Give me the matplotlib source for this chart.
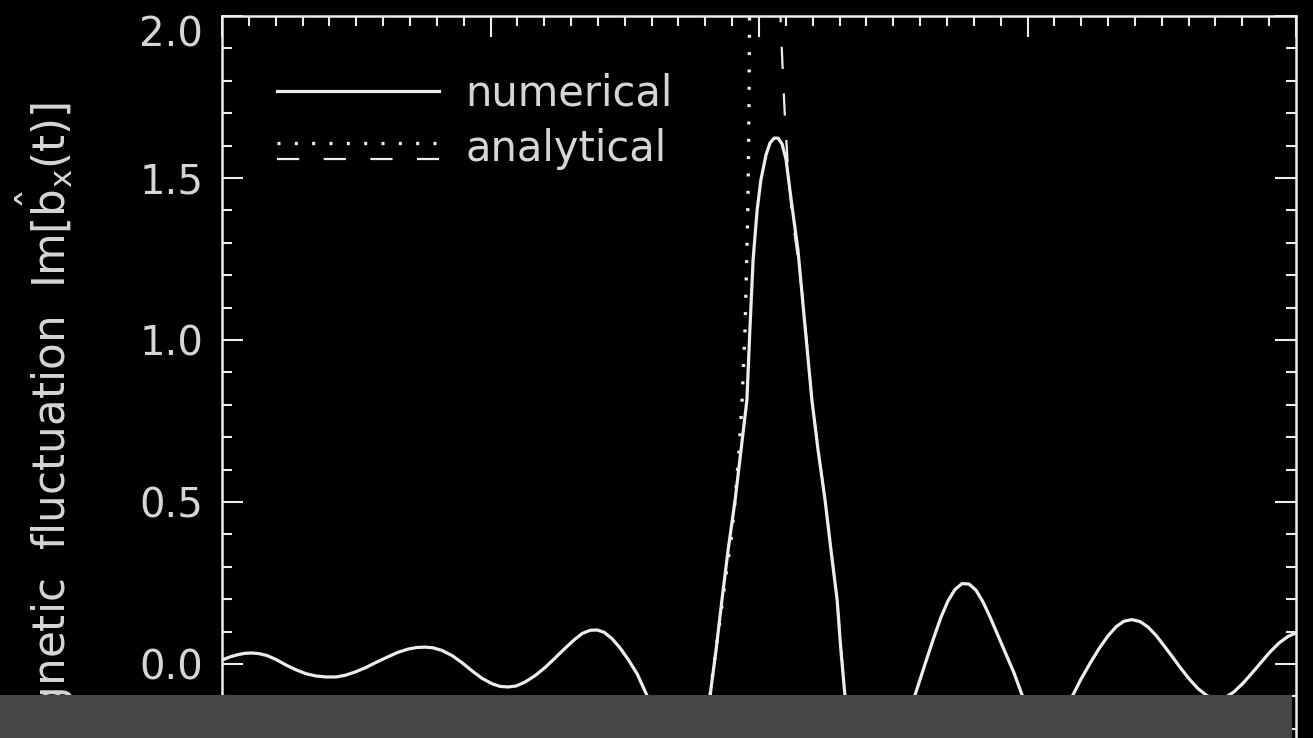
import matplotlib
matplotlib.use('Agg')
import matplotlib.pyplot as plt
from matplotlib.lines import Line2D
from matplotlib.legend_handler import HandlerBase
from matplotlib.patches import Rectangle
from matplotlib.ticker import MultipleLocator

plt.rcParams['font.family'] = ['DejaVu Sans']
plt.rcParams['mathtext.fontset'] = 'dejavusans'

# numerical solution (time in axis units, Im[b_x])
t_num = [0.000, 0.030, 0.060, 0.086, 0.112, 0.138, 0.168, 0.201, 0.238, 0.276,
         0.313, 0.350, 0.387, 0.425, 0.458, 0.495, 0.533, 0.574, 0.615, 0.655,
         0.693, 0.726, 0.756, 0.786, 0.819, 0.857, 0.894, 0.931, 0.968, 1.006,
         1.035, 1.065, 1.095, 1.128, 1.166, 1.203, 1.240, 1.277, 1.311, 1.341,
         1.371, 1.397, 1.423, 1.453, 1.482, 1.512, 1.546, 1.587, 1.650, 1.706,
         1.762, 1.818, 1.840, 1.862, 1.885, 1.911, 1.933, 1.955, 1.966, 1.978,
         1.993, 2.007, 2.026, 2.041, 2.056, 2.071, 2.086, 2.101, 2.115, 2.130,
         2.145, 2.171, 2.197, 2.220, 2.246, 2.268, 2.291, 2.305, 2.320, 2.376,
         2.451, 2.525, 2.581, 2.615, 2.648, 2.678, 2.704, 2.730, 2.756, 2.782,
         2.808, 2.834, 2.860, 2.890, 2.920, 2.950, 2.980, 3.028, 3.076, 3.121,
         3.169, 3.199, 3.233, 3.266, 3.300, 3.330, 3.359, 3.389, 3.419, 3.449,
         3.479, 3.508, 3.538, 3.568, 3.602, 3.635, 3.669, 3.702, 3.736, 3.769,
         3.803, 3.836, 3.870, 3.903, 3.937, 3.970, 4.000]
b_num = [0.012, 0.022, 0.029, 0.033, 0.034, 0.032, 0.026, 0.014, -0.003, -0.018,
         -0.030, -0.037, -0.040, -0.040, -0.035, -0.025, -0.012, 0.005, 0.021, 0.036,
         0.046, 0.051, 0.052, 0.050, 0.042, 0.026, 0.004, -0.021, -0.044, -0.061,
         -0.069, -0.071, -0.068, -0.056, -0.036, -0.011, 0.018, 0.048, 0.074, 0.094,
         0.104, 0.105, 0.098, 0.078, 0.050, 0.015, -0.030, -0.105, -0.210, -0.265,
         -0.222, -0.096, 0.043, 0.198, 0.352, 0.506, 0.660, 0.815, 1.031, 1.247,
         1.401, 1.494, 1.571, 1.608, 1.623, 1.623, 1.605, 1.556, 1.463, 1.370,
         1.278, 1.046, 0.815, 0.660, 0.506, 0.352, 0.198, 0.043, -0.096, -0.235,
         -0.290, -0.235, -0.096, -0.009, 0.074, 0.145, 0.195, 0.230, 0.248, 0.247,
         0.228, 0.192, 0.146, 0.088, 0.030, -0.028, -0.096, -0.179, -0.210, -0.179,
         -0.096, -0.047, 0.002, 0.047, 0.087, 0.115, 0.132, 0.137, 0.131, 0.114,
         0.088, 0.057, 0.024, -0.010, -0.046, -0.076, -0.098, -0.108, -0.104, -0.086,
         -0.059, -0.028, 0.005, 0.037, 0.065, 0.085, 0.096]

# analytical, growth branch (dotted)
t_grow = [1.965, 1.963, 1.959, 1.955, 1.948, 1.937, 1.926, 1.911, 1.896, 1.877,
          1.855, 1.832, 1.818]
b_grow = [2.049, 1.741, 1.432, 1.278, 1.031, 0.815, 0.660, 0.506, 0.383, 0.275,
          0.136, -0.003, -0.096]

# analytical, decay branch (dashed)
t_decay = [2.078, 2.082, 2.089, 2.097, 2.108, 2.123, 2.141, 2.164, 2.197, 2.246,
           2.291, 2.320]
b_decay = [2.049, 1.957, 1.818, 1.679, 1.531, 1.386, 1.278, 1.123, 0.815, 0.506,
           0.198, -0.096]

y_ticks = [0.0, 0.5, 1.0, 1.5, 2.0]
y_ticklabels = ['0.0', '0.5', '1.0', '1.5', '2.0']

fg = '#ededed'
txt = '#d6d6d6'


class StackedHandler(HandlerBase):
    # draws the two analytical styles one above the other
    def create_artists(self, legend, orig_handle, xdescent, ydescent,
                       width, height, fontsize, trans):
        arts = []
        for h, dy in zip(orig_handle, (0.62, 0.08)):
            ln = Line2D([-xdescent, width - xdescent],
                        [height * dy - ydescent] * 2)
            ln.update_from(h)
            ln.set_transform(trans)
            arts.append(ln)
        return arts


fig = plt.figure(figsize=(13.13, 7.38), dpi=100, facecolor='black')
ax = fig.add_axes([222 / 1313, 1 - 826 / 738, 1074 / 1313, 810 / 738])
ax.set_facecolor('black')

l_num, = ax.plot(t_num, b_num, color=fg, lw=2.3)
l_grow, = ax.plot(t_grow, b_grow, color=fg, lw=2.4, linestyle=(0, (0.9, 4.3)))
l_decay, = ax.plot(t_decay, b_decay, color=fg, lw=1.6, linestyle=(0, (10, 11)))

ax.set_xlim(0, 4)
ax.set_ylim(-0.5, 2.0)
ax.xaxis.set_major_locator(MultipleLocator(1))
ax.xaxis.set_minor_locator(MultipleLocator(0.1))
ax.set_yticks(y_ticks)
ax.set_yticklabels(y_ticklabels)
ax.yaxis.set_minor_locator(MultipleLocator(0.1))

ax.tick_params(which='both', direction='in', top=True, right=True,
               color=fg, width=1.5, labelcolor=txt, labelsize=29)
ax.tick_params(which='major', length=15, pad=13.5)
ax.tick_params(which='minor', length=7.5)
# time labels sit below the visible frame, under the player bar
ax.tick_params(axis='x', labelbottom=False)
for s in ax.spines.values():
    s.set_color(fg)
    s.set_linewidth(1.8)

ax.yaxis.get_major_ticks()[-1].label1.set_va('top')

ax.set_ylabel('Magnetic  fluctuation  Im[$\\hat{\\mathrm{b}}_\\mathrm{x}$(t)]',
              fontsize=31.5, color=txt)
ax.yaxis.set_label_coords(-0.135, 0.477)

ax.legend([l_num, (l_grow, l_decay)], ['numerical', 'analytical'],
          handler_map={tuple: StackedHandler()},
          loc='upper left', bbox_to_anchor=(0.016, 0.977), frameon=False,
          fontsize=30, labelcolor=txt, handlelength=3.9, handletextpad=0.62,
          labelspacing=0.34)

# grey control bar over the bottom of the frame
fig.patches.append(Rectangle((0, 0), 1292 / 1313, 43 / 738,
                             transform=fig.transFigure, facecolor='#464646',
                             edgecolor='none', zorder=10))

fig.savefig('out.png', dpi=100, facecolor='black')
